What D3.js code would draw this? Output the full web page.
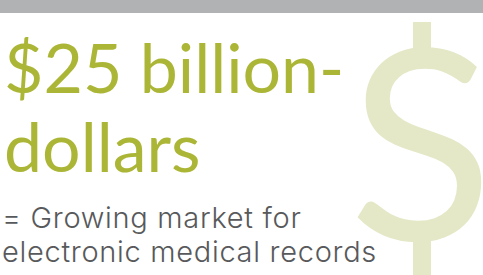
<!DOCTYPE html>
<html><head><meta charset="utf-8">
<script src="https://cdn.jsdelivr.net/npm/d3@7"></script>
<style>html,body{margin:0;padding:0;background:#fff;overflow:hidden}</style>
</head><body>
<script>
const headlineLines = ["$25 billion-", "dollars"];
const subtitleLines = ["= Growing market for", "electronic medical records"];
const bigSymbol = ["S"];

const W = 483, H = 275;
const svg = d3.select("body").append("svg").attr("width", W).attr("height", H);

svg.append("rect").attr("x", 0).attr("y", 0).attr("width", W).attr("height", 13).attr("fill", "#b1b2b4");

const big = svg.append("g").attr("fill", "#e4e8c6");
big.append("rect").attr("x", 413).attr("y", 22).attr("width", 18).attr("height", 30);
big.append("rect").attr("x", 413).attr("y", 236).attr("width", 18).attr("height", 40);
big.selectAll("text").data(bigSymbol).join("text")
  .attr("x", 421).attr("y", 240).attr("text-anchor", "middle")
  .attr("font-family", "Lato").attr("font-weight", 400).attr("font-size", 266)
  .text(d => d);

svg.selectAll("text.head").data(headlineLines).join("text").attr("class", "head")
  .attr("x", 4).attr("y", (d, i) => 93 + i * 79)
  .attr("font-family", "Lato").attr("font-weight", 400).attr("font-size", 68)
  .attr("fill", "#abb636").text(d => d);

svg.selectAll("text.sub").data(subtitleLines).join("text").attr("class", "sub")
  .attr("x", 2).attr("y", (d, i) => 228 + i * 34)
  .attr("font-family", "Inter").attr("font-weight", 300).attr("font-size", 29)
  .attr("letter-spacing", 0.7)
  .attr("fill", "#58595b").text(d => d);
</script>
</body></html>
